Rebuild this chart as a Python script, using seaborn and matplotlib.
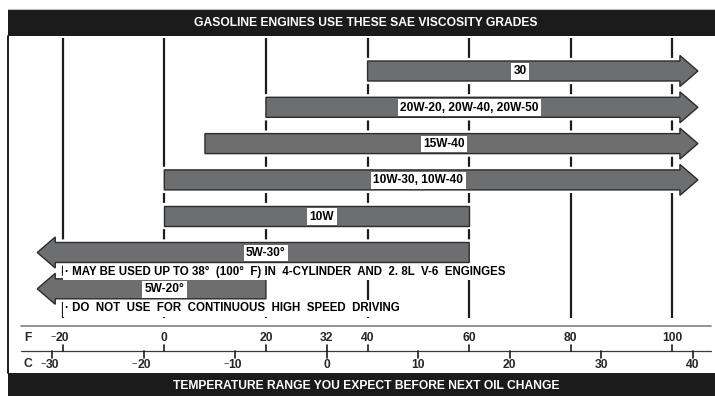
import numpy as np
import matplotlib
matplotlib.use("Agg")
import matplotlib.pyplot as plt
import seaborn as sns
from matplotlib.patches import Polygon, Rectangle
from matplotlib import patheffects as pe

# ---- data -------------------------------------------------------------
grades = ["30", "20W-20, 20W-40, 20W-50", "15W-40", "10W-30, 10W-40",
          "10W", "5W-30°", "5W-20°"]
range_low_f = [40, 20, 8, 0, 0, -25, -25]        # °F, lower end of the band
range_high_f = [105, 105, 105, 105, 60, 60, 20]  # °F, upper end of the band
open_low = [False, False, False, False, False, True, True]
open_high = [True, True, True, True, False, False, False]
label_at_f = [70, 60, 55, 50, 31, 20, 0]

grid_f = [-20, 0, 20, 40, 60, 80, 100]
f_ticks = [-20, 0, 20, 32, 40, 60, 80, 100]
c_ticks = [-30, -20, -10, 0, 10, 20, 30, 40]

notes = ["· MAY BE USED UP TO 38°  (100°  F) IN  4-CYLINDER  AND  2. 8L  V-6  ENGINGES",
         "· DO  NOT  USE  FOR  CONTINUOUS  HIGH  SPEED  DRIVING"]
title = "GASOLINE ENGINES USE THESE SAE VISCOSITY GRADES"
footer = "TEMPERATURE RANGE YOU EXPECT BEFORE NEXT OIL CHANGE"

# ---- style -------------------------------------------------------------
sns.set_theme(style="white")
plt.rcParams["font.family"] = ["Liberation Sans", "DejaVu Sans"]
plt.rcParams["font.weight"] = "bold"

W, H = 715, 396
fig = plt.figure(figsize=(W / 100, H / 100), dpi=100)
ax = fig.add_axes([0, 0, 1, 1])

# x axis in °F, y axis in pixel rows (top = 0)
F0_PX, F_SCALE = 367.57, 5.082          # pixel of 40°F, pixels per °F


def px2f(px):
    return 40 + (px - F0_PX) / F_SCALE


ax.set_xlim(px2f(0), px2f(W))
ax.set_ylim(H, 0)
ax.axis("off")

DARK = "#1c1c1c"
BAR = "#6d6e70"
FS_HEAD = 8.7
FS_LABEL = 8.6
FS_NOTE = 8.3
FS_TICK = 8.7

# header and footer bands
ax.add_patch(Rectangle((px2f(8), 10), px2f(W + 5) - px2f(8), 26,
                       fc="#1b1b1b", ec="none", zorder=5))
ax.plot([px2f(8), px2f(W)], [9, 9], color="#bbbbbb", lw=0.8, zorder=5)
ax.add_patch(Rectangle((px2f(8), 373), px2f(W + 5) - px2f(8), 30,
                       fc="#1b1b1b", ec="none", zorder=5))
ax.text(px2f(366), 23, title, color="white", ha="center", va="center",
        fontsize=FS_HEAD, fontweight="bold", zorder=6)
ax.text(px2f(366), 386, footer, color="white", ha="center", va="center",
        fontsize=FS_HEAD, fontweight="bold", zorder=6)
# left frame edge
ax.plot([px2f(8.5), px2f(8.5)], [36, 373], color=DARK, lw=1.4, zorder=5)

# vertical guide lines
ax.vlines(grid_f, 38, 318, color=DARK, lw=1.6, zorder=1)

# arrows / bars
ROW0, ROW_STEP = 71, 36.3
SHAFT, HEAD = 10, 15.5                 # half heights (px)
HEAD_LEN = 18 / F_SCALE                # head length (°F)
for i, g in enumerate(grades):
    yc = ROW0 + ROW_STEP * i
    lo, hi = range_low_f[i], range_high_f[i]
    pts = []
    if open_low[i]:
        base = lo + HEAD_LEN
        pts += [(lo, yc), (base, yc - HEAD), (base, yc - SHAFT)]
    else:
        pts += [(lo, yc + SHAFT), (lo, yc - SHAFT)]
    if open_high[i]:
        base = hi - HEAD_LEN
        pts += [(base, yc - SHAFT), (base, yc - HEAD), (hi, yc),
                (base, yc + HEAD), (base, yc + SHAFT)]
    else:
        pts += [(hi, yc - SHAFT), (hi, yc + SHAFT)]
    if open_low[i]:
        pts += [(lo + HEAD_LEN, yc + SHAFT), (lo + HEAD_LEN, yc + HEAD)]
    poly = Polygon(pts, closed=True, fc=BAR, ec="#2b2b2b", lw=1.0,
                   joinstyle="miter", zorder=2)
    poly.set_path_effects([pe.withStroke(linewidth=4.5, foreground="white")])
    ax.add_patch(poly)
    ax.text(label_at_f[i], yc + 0.5, g, ha="center", va="center",
            fontsize=FS_LABEL, fontweight="bold", color="black", zorder=3,
            bbox=dict(boxstyle="square,pad=0.2", fc="white", ec="none"))

# notes under the 5W grades
for k, note in enumerate(notes):
    yc = ROW0 + ROW_STEP * (5 + k) + 19.5
    ax.text(px2f(65), yc, note, ha="left", va="center", fontsize=FS_NOTE,
            fontweight="bold", color="black", zorder=3,
            bbox=dict(boxstyle="square,pad=0.2", fc="white", ec="none"))

# temperature scales
ax.plot([px2f(21), px2f(711)], [326, 326], color="#8a8a8a", lw=1.3, zorder=1)
ax.plot([px2f(21), px2f(711)], [351, 351], color="#3a3a3a", lw=0.9, zorder=1)
ax.text(px2f(28), 338, "F", ha="center", va="center", fontsize=FS_TICK,
        fontweight="bold")
ax.text(px2f(28), 364, "C", ha="center", va="center", fontsize=FS_TICK,
        fontweight="bold")


def tick_label(x, y, value):
    digits = str(abs(value))
    t = ax.text(x, y, digits, ha="center", va="center", fontsize=FS_TICK,
                fontweight="bold")
    if value < 0:
        # small raised minus sign just in front of the digits
        dx = (len(digits) * 4.85 / 2 + 2.0) / F_SCALE
        ax.text(x - dx, y - 2.0, "\u2212", ha="right", va="center",
                fontsize=6.5, fontweight="normal")
    return t


for f in f_ticks:
    ax.plot([f, f], [345, 351], color=DARK, lw=1.2)
    tick_label(f, 338, f)
for c in c_ticks:
    f = c * 9 / 5 + 32
    ax.plot([f, f], [351, 357.5], color=DARK, lw=1.2)
    tick_label(f, 364.5, c)

fig.savefig("out.png", dpi=100, facecolor="white")
